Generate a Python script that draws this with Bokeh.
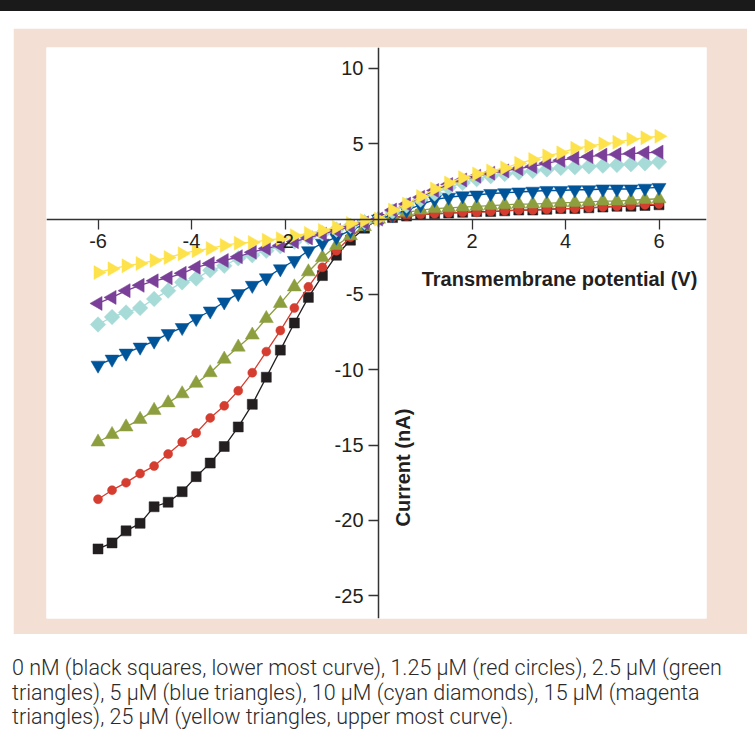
import math
from bokeh.plotting import figure
from bokeh.models import FixedTicker, Label, Div, Range1d
from bokeh.layouts import column
from bokeh.embed import file_html
from bokeh.resources import INLINE

voltage = [-6.0, -5.7, -5.4, -5.1, -4.8, -4.5, -4.2, -3.9, -3.6, -3.3, -3.0,
           -2.7, -2.4, -2.1, -1.8, -1.5, -1.2, -0.9, -0.6, -0.3, 0.0,
           0.3, 0.6, 0.9, 1.2, 1.5, 1.8, 2.1, 2.4, 2.7, 3.0,
           3.3, 3.6, 3.9, 4.2, 4.5, 4.8, 5.1, 5.4, 5.7, 6.0]

i_0nM = [-21.9, -21.5, -20.7, -20.2, -19.1, -18.8, -18.1, -17.1, -16.2, -15.1, -13.8,
         -12.3, -10.5, -8.7, -6.9, -5.2, -3.75, -2.4, -1.4, -0.6, 0.0,
         0.1, 0.2, 0.3, 0.35, 0.4, 0.45, 0.5, 0.5, 0.55, 0.6,
         0.6, 0.65, 0.7, 0.7, 0.75, 0.8, 0.85, 0.85, 0.9, 0.95]
i_1_25uM = [-18.6, -18.0, -17.5, -16.9, -16.4, -15.6, -14.8, -14.2, -13.2, -12.4, -11.4,
            -10.2, -8.8, -7.4, -5.9, -4.5, -3.2, -2.1, -1.2, -0.5, 0.0,
            0.1, 0.2, 0.3, 0.35, 0.4, 0.45, 0.45, 0.5, 0.55, 0.6,
            0.6, 0.65, 0.7, 0.7, 0.75, 0.8, 0.85, 0.9, 0.95, 1.0]
i_2_5uM = [-14.8, -14.3, -13.8, -13.3, -12.7, -12.2, -11.6, -10.9, -10.2, -9.3, -8.5,
           -7.7, -6.6, -5.6, -4.5, -3.5, -2.55, -1.75, -1.1, -0.5, 0.0,
           0.25, 0.45, 0.6, 0.7, 0.75, 0.8, 0.85, 0.9, 0.95, 1.0,
           1.0, 1.05, 1.1, 1.1, 1.15, 1.2, 1.2, 1.25, 1.3, 1.35]
i_5uM = [-9.7, -9.3, -8.9, -8.5, -8.1, -7.6, -7.2, -6.6, -6.1, -5.5, -4.95,
         -4.4, -3.9, -3.3, -2.75, -2.1, -1.6, -1.2, -0.75, -0.35, 0.0,
         0.3, 0.6, 0.95, 1.3, 1.45, 1.55, 1.6, 1.7, 1.75, 1.8,
         1.85, 1.9, 1.9, 1.95, 1.95, 2.0, 2.0, 2.0, 2.05, 2.1]
i_10uM = [-7.0, -6.5, -6.2, -5.9, -5.3, -4.75, -4.2, -3.95, -3.4, -3.1, -2.6,
          -2.4, -2.1, -1.8, -1.5, -1.2, -0.95, -0.7, -0.45, -0.2, 0.0,
          0.5, 0.9, 1.3, 1.7, 2.1, 2.4, 2.65, 2.85, 3.0, 3.1,
          3.2, 3.3, 3.4, 3.45, 3.5, 3.55, 3.6, 3.65, 3.7, 3.8]
i_15uM = [-5.6, -5.2, -4.75, -4.4, -4.1, -3.9, -3.6, -3.2, -2.95, -2.75, -2.5,
          -2.2, -1.95, -1.75, -1.5, -1.25, -1.0, -0.75, -0.5, -0.25, 0.0,
          0.6, 1.0, 1.45, 1.9, 2.3, 2.6, 2.85, 3.05, 3.2, 3.35,
          3.5, 3.7, 3.9, 4.05, 4.15, 4.25, 4.3, 4.35, 4.4, 4.45]
i_25uM = [-3.55, -3.3, -3.1, -2.95, -2.75, -2.55, -2.3, -2.1, -1.95, -1.75, -1.6,
          -1.55, -1.4, -1.3, -1.1, -0.95, -0.75, -0.55, -0.3, -0.1, 0.0,
          0.6, 1.0, 1.5, 2.0, 2.4, 2.75, 3.0, 3.2, 3.4, 3.7,
          3.95, 4.2, 4.4, 4.7, 4.85, 5.0, 5.1, 5.3, 5.4, 5.5]

x_ticks = [-6, -4, -2, 2, 4, 6]
y_ticks = [10, 5, -5, -10, -15, -20, -25]

x_title = "Transmembrane potential (V)"
y_title = "Current (nA)"
caption = ("0 nM (black squares, lower most curve), 1.25 µM (red circles), 2.5 µM (green<br>"
           "triangles), 5 µM (blue triangles), 10 µM (cyan diamonds), 15 µM (magenta<br>"
           "triangles), 25 µM (yellow triangles, upper most curve).")

series = [
    (i_0nM, "#231f20", "square", 10, 0.0),
    (i_1_25uM, "#d43d2f", "circle", 9, 0.0),
    (i_2_5uM, "#8d9e3e", "triangle", 14, 0.0),
    (i_5uM, "#005499", "inverted_triangle", 14, 0.0),
    (i_10uM, "#a7dbd8", "square", 11, math.pi / 4),
    (i_15uM, "#7a3f98", "triangle", 14, math.pi / 2),
    (i_25uM, "#fde24c", "triangle", 14, -math.pi / 2),
]

p = figure(width=734, height=606, output_backend="svg", toolbar_location=None,
           x_range=Range1d(-7.102, 7.016), y_range=Range1d(-26.52, 11.394),
           min_border_left=33, min_border_right=41, min_border_top=19, min_border_bottom=16,
           border_fill_color="#f4dfd4", background_fill_color="white",
           outline_line_color=None)
p.grid.visible = False

for ys, col, mk, sz, ang in series:
    p.line(voltage, ys, line_color=col, line_width=1.3)
    p.scatter(voltage, ys, marker=mk, size=sz, angle=ang,
              fill_color=col, line_color=col, line_width=0.5)

for ax, ticks in ((p.xaxis[0], x_ticks), (p.yaxis[0], y_ticks)):
    ax.fixed_location = 0
    ax.ticker = FixedTicker(ticks=ticks)
    ax.major_label_overrides = {t: str(t) for t in ticks}
    ax.axis_line_color = "#333333"
    ax.axis_line_width = 1.5
    ax.major_tick_line_color = "#333333"
    ax.major_tick_line_width = 1.3
    ax.major_tick_in = 0
    ax.major_tick_out = 10
    ax.minor_tick_in = 0
    ax.minor_tick_out = 0
    ax.major_label_text_font = "Liberation Sans"
    ax.major_label_text_font_size = "20px"
    ax.major_label_text_color = "#231f20"
    ax.major_label_standoff = 5

p.add_layout(Label(x=6.82, y=-3.95, text=x_title, text_align="right", text_baseline="middle",
                   text_font="Liberation Sans", text_font_style="bold", text_font_size="20px",
                   text_color="#231f20"))
p.add_layout(Label(x=0.53, y=-16.5, text=y_title, angle=math.pi / 2, text_align="center",
                   text_baseline="middle", text_font="Liberation Sans", text_font_style="bold",
                   text_font_size="20px", text_color="#231f20"))

bar = Div(text="", width=755, height=11, margin=(0, 0, 0, 0),
          styles={"background-color": "#1a1a1a"})
p.margin = (17, 8, 0, 13)
cap = Div(text=caption, width=740, height=90, margin=(22, 0, 0, 12),
          styles={"font-family": "Roboto", "font-weight": "300", "font-size": "21.5px",
                  "line-height": "24.5px", "color": "#2a2a2a", "white-space": "nowrap"})

layout = column(bar, p, cap, spacing=0)
open("out.html", "w").write(file_html(layout, INLINE))
